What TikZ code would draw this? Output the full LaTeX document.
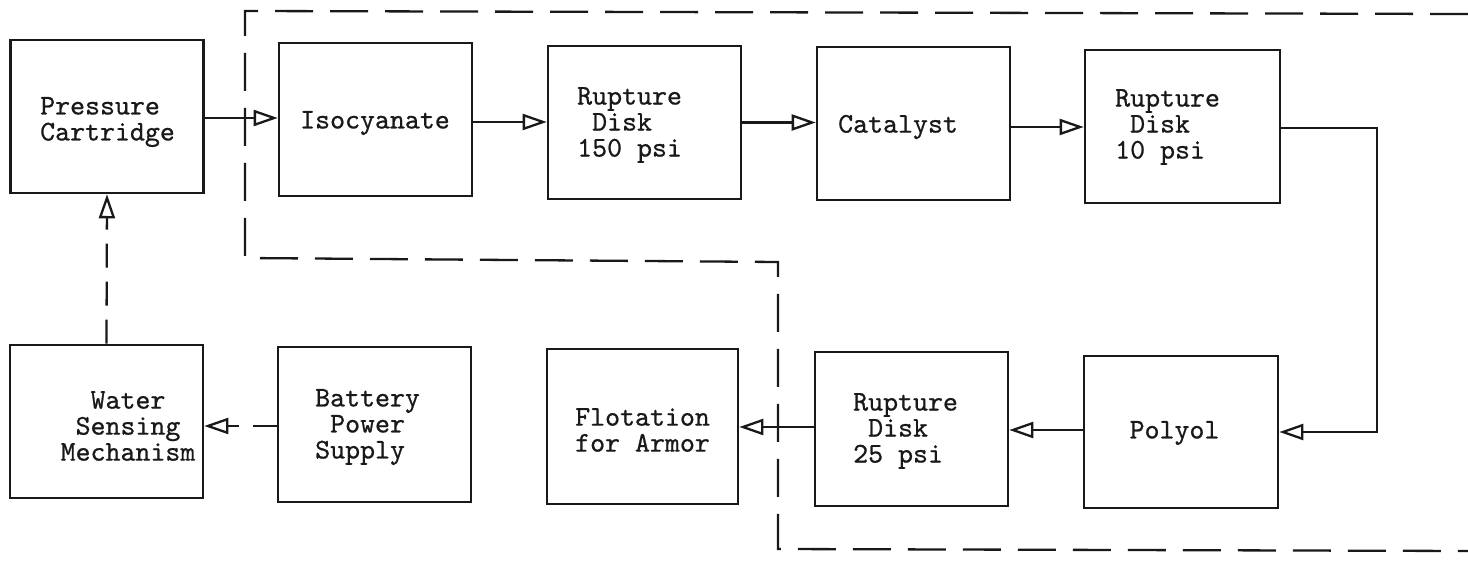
\documentclass[tikz,border=0pt]{standalone}
\usepackage{fontspec}
\newfontfamily\twfont{lmmono10-regular.otf}[BoldFont=lmmono10-regular.otf, BoldFeatures={FakeBold=0.7}]
\usetikzlibrary{arrows.meta}
\tikzset{
  box/.style={draw=black!90, line width=2.6pt, minimum width=193pt, minimum height=153pt, inner sep=0pt},
  txt/.style={font=\twfont\bfseries\fontsize{28.5}{26}\selectfont, inner sep=0pt, text=black!90, align=left},
  conn/.style={draw=black!90, line width=2.3pt, -{Triangle[open, length=24pt, width=16pt, line width=2.3pt]}},
  dconn/.style={conn, dash pattern=on 24pt off 14pt},
  bound/.style={draw=black!90, line width=2.3pt, dash pattern=on 38pt off 17pt}
}
\begin{document}
\begin{tikzpicture}[x=1pt, y=-1pt]
\useasboundingbox[fill=white] (0,0) rectangle (1468,564);
% boxes
\node[box] (pc)  at (107,116.5) {};
\node[box] (iso) at (375.5,119.5) {};
\node[box] (rd1) at (644.5,122.5) {};
\node[box] (cat) at (913.5,123.5) {};
\node[box, minimum width=195pt] (rd2) at (1182.5,126.5) {};
\node[box] (wsm) at (106.5,421.5) {};
\node[box, minimum height=155pt] (bat) at (374.5,424.5) {};
\node[box, minimum width=191pt, minimum height=155pt] (flo) at (642.5,426.5) {};
\node[box, minimum height=154pt] (rd3) at (911.5,429) {};
\node[box, minimum width=194pt, minimum height=152pt] (pol) at (1181,432) {};
% texts
\node[txt, anchor=west] (tpc) at (40,122) {Pressure\\Cartridge};
\node[txt] (tiso) at (375,123) {Isocyanate};
\node[txt, anchor=west] (trd1) at (577,125) {Rupture\\\phantom{x}Disk\\150 psi};
\node[txt, anchor=west] (tcat) at (838,127) {Catalyst};
\node[txt, anchor=west] (trd2) at (1115,127) {Rupture\\\phantom{x}Disk\\10 psi};
\node[txt, align=center] (twsm) at (128,426) {Water\\Sensing\\Mechanism};
\node[txt, anchor=west] (tbat) at (315,427) {Battery\\\phantom{x}Power\\Supply};
\node[txt, anchor=west] (tflo) at (575,430) {Flotation\\for Armor};
\node[txt, anchor=west] (trd3) at (853,431) {Rupture\\\phantom{x}Disk\\25 psi};
\node[txt] (tpol) at (1174.5,433) {Polyol};
% dashed boundary
\draw[bound] (1468,14) -- (245,11) -- (245,258) -- (778,262) -- (778,549) -- (1468,551);
% connector start points
\coordinate (s1) at ([yshift=-1.5pt]pc.east);
\coordinate (s2) at ([yshift=-2.5pt]iso.east);
\coordinate (s3) at (rd1.east);
\coordinate (s4) at ([yshift=-3.5pt]cat.east);
\coordinate (s5) at ([yshift=-1.5pt]rd2.east);
\coordinate (s6) at ([yshift=2pt]pol.west);
\coordinate (s7) at ([yshift=2pt]rd3.west);
\coordinate (s8) at ([yshift=-1.5pt]bat.west);
% connectors
\draw[conn] (s1) -- (s1 -| iso.west);
\draw[conn] (s2) -- (s2 -| rd1.west);
\draw[conn] (s3) -- (s3 -| cat.west);
\draw[conn] (s4) -- (s4 -| rd2.west);
\draw[conn] (s5) -- ++(96,0) |- (pol.east);
\draw[conn] (s6) -- (s6 -| rd3.east);
\draw[conn] (s7) -- (s7 -| flo.east);
\draw[dconn] (s8) -- (s8 -| wsm.east);
\draw[dconn] (wsm.north) -- (pc.south);
\end{tikzpicture}
\end{document}
